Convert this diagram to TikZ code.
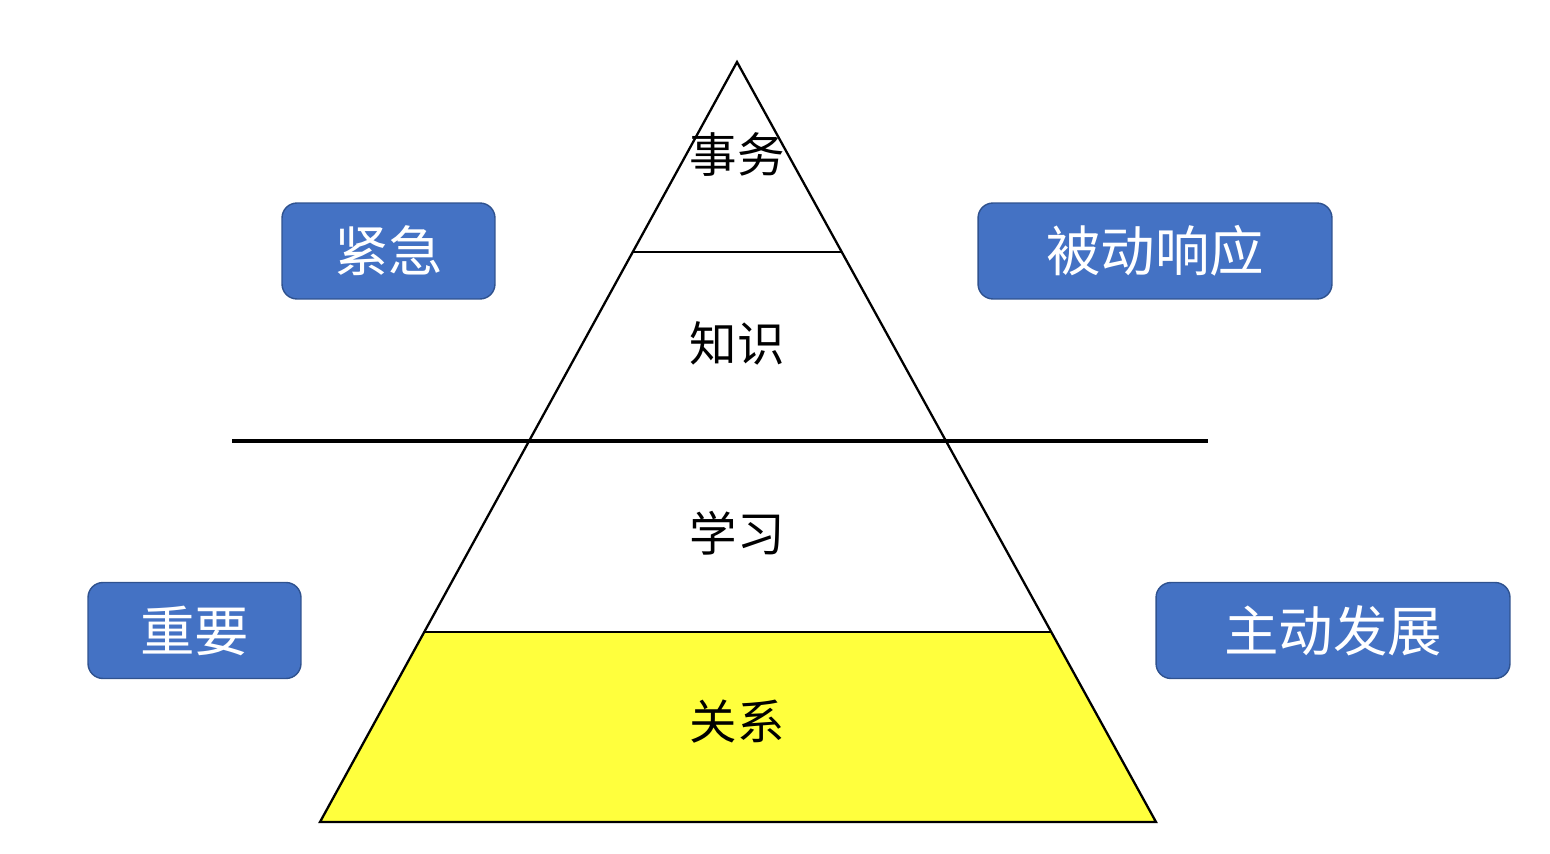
\documentclass[tikz,border=0pt]{standalone}
\usepackage{fontspec}
\newfontfamily\cjk{Noto Sans CJK SC}
\usetikzlibrary{calc}
\definecolor{boxblue}{HTML}{4472C4}
\definecolor{boxedge}{HTML}{2F528F}
\definecolor{layeryellow}{HTML}{FFFF3D}

\begin{document}
\begin{tikzpicture}[x=0.02cm,y=-0.02cm,
		tag/.style={draw=boxedge,line width=0.8pt,fill=boxblue,rounded corners=0.3cm,text=white,
			font=\cjk\fontsize{31}{36}\selectfont,minimum height=1.92cm,inner sep=0pt},
		layer/.style={font=\cjk\fontsize{27}{32}\selectfont}]
	\useasboundingbox (0,0) rectangle (1550,854);
	\coordinate (top) at (737,62);
	\coordinate (bl) at (320,822);
	\coordinate (br) at (1156,822);
	
	% Bottom layer
	\fill[layeryellow] ($(top)!0.75!(bl)$) -- ($(top)!0.75!(br)$) -- (br) -- (bl) -- cycle;
	
	% Pyramid and layer lines
	\draw[line width=1.3pt,line join=miter] (top) -- (br) -- (bl) -- cycle;
	\draw[line width=1.3pt] ($(top)!0.25!(bl)$) -- ($(top)!0.25!(br)$);
	\draw[line width=1.3pt] ($(top)!0.75!(bl)$) -- ($(top)!0.75!(br)$);
	
	% Divider
	\coordinate (divl) at (232,441);
	\coordinate (divr) at (1208,441);
	\draw[line width=2pt] (divl) -- (divr);
	
	% Layer labels
	\node[layer] (shiwu) at (737,155) {事务};
	\node[layer] (zhishi) at (737,343) {知识};
	\node[layer] (xuexi) at (737,533) {学习};
	\node[layer] (guanxi) at (737,722) {关系};
	
	% Side tags
	\node[tag,minimum width=4.26cm] (jinji) at (388.5,251) {紧急};
	\node[tag,minimum width=7.08cm] (beidong) at (1155,251) {被动响应};
	\node[tag,minimum width=4.26cm] (zhongyao) at (194.5,630.5) {重要};
	\node[tag,minimum width=7.08cm] (zhudong) at (1333,630.5) {主动发展};
\end{tikzpicture}
\end{document}
